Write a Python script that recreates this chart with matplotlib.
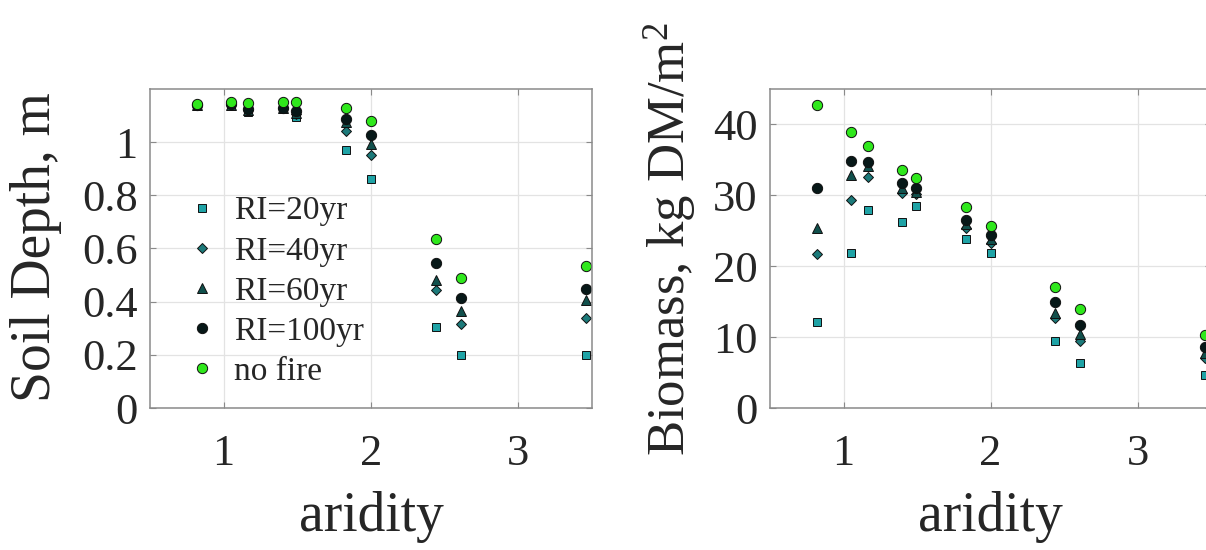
import matplotlib
matplotlib.use("Agg")
import matplotlib.pyplot as plt

plt.rcParams['font.family'] = ['Liberation Serif', 'DejaVu Serif']
plt.rcParams['mathtext.fontset'] = 'custom'
plt.rcParams['mathtext.rm'] = 'Liberation Serif'
plt.rcParams['mathtext.it'] = 'Liberation Serif:italic'

# ---- data ----
aridity = [0.82, 1.05, 1.165, 1.40, 1.49, 1.83, 2.00, 2.44, 2.61, 3.46]

series_labels = ['RI=20yr', 'RI=40yr', 'RI=60yr', 'RI=100yr', 'no fire']

soil_ri20 = [1.14, 1.14, 1.115, 1.13, 1.093, 0.970, 0.860, 0.304, 0.199, 0.201]
soil_ri40 = [1.14, 1.14, 1.12, 1.13, 1.105, 1.043, 0.953, 0.443, 0.316, 0.338]
soil_ri60 = [1.14, 1.14, 1.12, 1.13, 1.11, 1.077, 0.992, 0.480, 0.364, 0.408]
soil_ri100 = [1.14, 1.143, 1.125, 1.13, 1.118, 1.089, 1.026, 0.546, 0.413, 0.448]
soil_nofire = [1.143, 1.15, 1.146, 1.152, 1.152, 1.128, 1.080, 0.636, 0.490, 0.536]

bio_ri20 = [12.2, 21.8, 28.0, 26.3, 28.5, 23.8, 21.9, 9.4, 6.4, 4.6]
bio_ri40 = [21.7, 29.3, 32.6, 30.3, 30.2, 25.4, 23.3, 12.7, 9.4, 7.0]
bio_ri60 = [25.4, 32.8, 34.1, 31.0, 30.5, 26.0, 23.8, 13.4, 10.4, 7.7]
bio_ri100 = [31.0, 34.9, 34.7, 31.8, 31.1, 26.5, 24.4, 14.9, 11.7, 8.6]
bio_nofire = [42.7, 39.0, 36.9, 33.6, 32.5, 28.3, 25.7, 17.1, 14.0, 10.3]

soil_series = [soil_ri20, soil_ri40, soil_ri60, soil_ri100, soil_nofire]
bio_series = [bio_ri20, bio_ri40, bio_ri60, bio_ri100, bio_nofire]

# ---- styles ----
markers = ['s', 'D', '^', 'o', 'o']
msizes = [6.0, 5.2, 7.2, 7.4, 7.4]
colors = ['#1fa3a6', '#1c7a7a', '#11504c', '#071818', '#2fe81c']

W, H = 1206, 550
fig = plt.figure(figsize=(W / 100, H / 100), dpi=100)
fig.patch.set_facecolor('white')

ax1 = fig.add_axes([150 / W, (H - 408) / H, (592 - 150) / W, (408 - 89) / H])
ax2 = fig.add_axes([770 / W, (H - 408) / H, (1211 - 770) / W, (408 - 89) / H])


def style(ax):
    ax.set_xlim(0.5, 3.5)
    ax.set_xticks([1, 2, 3])
    ax.grid(True, color='#e3e3e3', linewidth=0.9)
    ax.set_axisbelow(True)
    for s in ax.spines.values():
        s.set_color('#8a8a8a')
        s.set_linewidth(1.1)
    ax.tick_params(direction='in', length=4, width=0.8, colors='#8a8a8a',
                   top=True, right=True, labelsize=32, labelcolor='#262626')
    ax.tick_params(axis='x', pad=19)
    ax.tick_params(axis='y', pad=9)


for ax, data in ((ax1, soil_series), (ax2, bio_series)):
    style(ax)
    for vals, lab, m, ms, c in zip(data, series_labels, markers, msizes, colors):
        ax.plot(aridity, vals, linestyle='none', marker=m, markersize=ms,
                markerfacecolor=c, markeredgecolor='#101010',
                markeredgewidth=0.7, label=lab, clip_on=False)

ax1.set_ylim(0, 1.2)
ax1.set_yticks([0, 0.2, 0.4, 0.6, 0.8, 1.0])
ax1.set_yticklabels(['0', '0.2', '0.4', '0.6', '0.8', '1'])
ax2.set_ylim(0, 45)
ax2.set_yticks([0, 10, 20, 30, 40])

ax1.set_xlabel('aridity', fontsize=40, color='#262626', labelpad=12)
ax2.set_xlabel('aridity', fontsize=40, color='#262626', labelpad=12)
ax1.set_ylabel('Soil Depth, m', fontsize=40, color='#262626')
ax2.set_ylabel(r'Biomass, kg DM/m$^{\mathrm{2}}$', fontsize=38, color='#262626')
ax1.yaxis.set_label_coords(-0.20, 0.505)
ax2.yaxis.set_label_coords(-0.16, 0.53)

leg = ax1.legend(loc='upper left', bbox_to_anchor=(0.08, 0.665), frameon=False,
                 fontsize=24, handletextpad=0.45, labelspacing=0.29,
                 handlelength=1.0, borderpad=0.0, borderaxespad=0.0)
for t in leg.get_texts():
    t.set_color('#262626')

fig.savefig('out.png', dpi=100, facecolor='white')
